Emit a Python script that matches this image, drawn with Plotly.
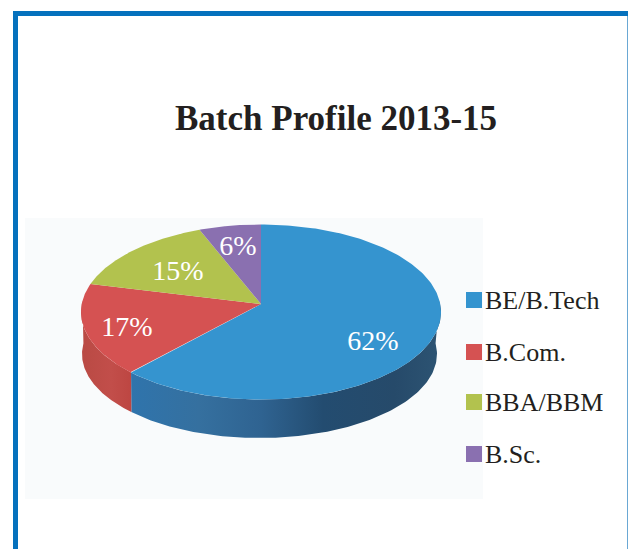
import numpy as np
import plotly.graph_objects as go

title = "Batch Profile 2013-15"
categories = ["BE/B.Tech", "B.Com.", "BBA/BBM", "B.Sc."]
shares = [62, 17, 15, 6]
colors = ["#3594cf", "#d55252", "#b2c24e", "#8a70b0"]

W, H = 628, 549
# projected pie geometry, in page pixels
CX, CY, RX, RY = 261, 312, 180, 87.5
APEX_Y = 304
BCX, BCY, BRX, BRY = 259.5, 354, 177.5, 84
SKEW = 0.077


def param(theta):
    return theta - SKEW * np.sin(theta)


def top_pt(theta):
    t = param(theta)
    return CX + RX * np.sin(t), CY - RY * np.cos(t)


def bot_pt(theta):
    t = param(theta)
    return BCX + BRX * np.sin(t), BCY - BRY * np.cos(t)


fractions = np.cumsum([0] + shares) / sum(shares)
start = fractions[:-1] * 2 * np.pi
end = fractions[1:] * 2 * np.pi

fig = go.Figure()


def poly(xs, ys, color=None, grad=None):
    kw = dict(x=list(xs), y=list(ys), mode="lines", fill="toself",
              line=dict(width=0), hoverinfo="skip", showlegend=False)
    if grad is not None:
        kw["fillgradient"] = dict(type="horizontal", colorscale=grad)
    else:
        kw["fillcolor"] = color
    fig.add_trace(go.Scatter(**kw))


# walls: visible for the front half of the pie only
def wall(a, b, grad):
    th = np.linspace(a, b, 120)
    tx, ty = top_pt(th)
    bx, by = bot_pt(th[::-1])
    poly(np.r_[tx, bx, tx[0]], np.r_[ty, by, ty[0]], grad=grad)


blue_wall = [[0, "#2f74ac"], [0.22, "#35709f"], [0.42, "#2f6391"], [0.62, "#234c70"],
             [0.85, "#264a6a"], [1, "#2d5473"]]
red_wall = [[0, "#b94a44"], [0.6, "#c24e4a"], [1, "#bd4642"]]
wall(np.pi / 2 - 0.05, end[0], blue_wall)
wall(start[1], 3 * np.pi / 2 + 0.05, red_wall)

# top surface wedges
for i in range(len(shares)):
    th = np.linspace(start[i], end[i], 200)
    ex, ey = top_pt(th)
    poly(np.r_[CX, ex, CX], np.r_[APEX_Y, ey, APEX_Y], color=colors[i])

# value labels inside the wedges
fig.add_trace(go.Scatter(
    x=[373, 127, 178, 238], y=[343, 329, 273, 248], mode="text",
    text=[f"{s}%" for s in shares], textposition="middle center",
    textfont=dict(family="Liberation Serif", size=28, color="#ffffff"),
    hoverinfo="skip", showlegend=False))

# legend
legend_y = [300, 352, 402, 454]
fig.add_trace(go.Scatter(
    x=[474] * 4, y=legend_y, mode="markers",
    marker=dict(symbol="square", size=16, color=colors, line=dict(width=0)),
    hoverinfo="skip", showlegend=False))
fig.add_trace(go.Scatter(
    x=[485] * 4, y=[y + 2 for y in legend_y], mode="text", text=categories,
    textposition="middle right",
    textfont=dict(family="Liberation Serif", size=26, color="#231f20"),
    hoverinfo="skip", showlegend=False))

fig.add_annotation(x=335.5, y=118, text=f"<b>{title}</b>", showarrow=False,
                   font=dict(family="Liberation Serif", size=35, color="#231f20"),
                   xanchor="center", yanchor="middle")

BLUE = "#0571bd"
shapes = [
    dict(type="rect", layer="below", x0=25, x1=483, y0=218, y1=499, fillcolor="#f9fbfc", line_width=0),
    dict(type="rect", x0=13, x1=628, y0=11, y1=16, fillcolor=BLUE, line_width=0),
    dict(type="rect", x0=13, x1=18, y0=11, y1=549, fillcolor=BLUE, line_width=0),
    dict(type="rect", x0=627, x1=628, y0=16, y1=549, fillcolor="#6aa8d4", line_width=0),
]
fig.update_layout(
    width=W, height=H, margin=dict(l=0, r=0, t=0, b=0), autosize=False,
    paper_bgcolor="#ffffff", plot_bgcolor="rgba(0,0,0,0)", shapes=shapes, showlegend=False,
    xaxis=dict(range=[0, W], visible=False, fixedrange=True),
    yaxis=dict(range=[H, 0], visible=False, fixedrange=True),
)
fig.write_html("out.html", config={"displayModeBar": False},
               post_script="document.body.style.margin='0';document.body.style.overflow='hidden';")
